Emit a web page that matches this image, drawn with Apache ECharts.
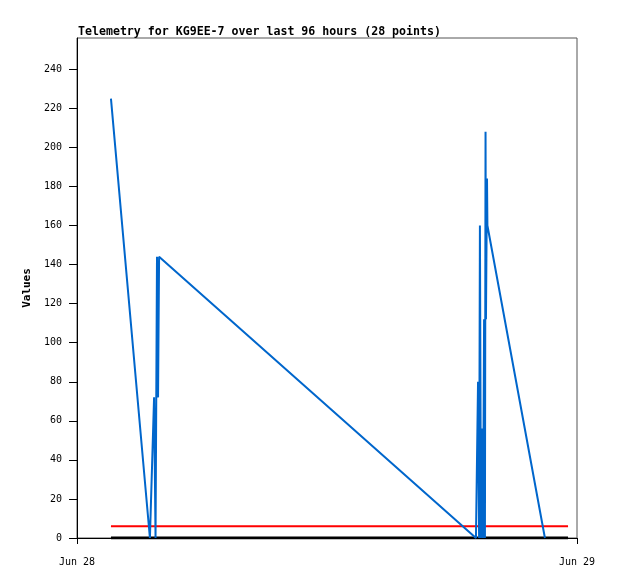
<!DOCTYPE html>
<html>
<head>
<meta charset="utf-8">
<script src="https://cdn.jsdelivr.net/npm/echarts@6/dist/echarts.min.js"></script>
<style>
  html, body { margin: 0; padding: 0; background: #fff; }
  #chart { width: 618px; height: 579px; }
</style>
</head>
<body>
<div id="chart"></div>
<script>
// hours since Jun 28 00:00 for each of the 28 telemetry points
const hours = [
  1.63, 3.50, 3.70, 3.77, 3.84, 3.89, 3.94, 3.96,
  19.15, 19.25, 19.30, 19.34, 19.39, 19.44, 19.49, 19.54,
  19.58, 19.61, 19.63, 19.68, 19.70,
  22.46, 22.70, 22.94, 23.18, 23.38, 23.50, 23.57
];
// blue channel has no reading for the last few points
const valuesBlue = [
  225, 0, 72, 0, 144, 72, 144, 144,
  0, 80, 0, 160, 0, 56, 0, 112,
  0, 208, 112, 184, 160,
  0, null, null, null, null, null, null
];
const valuesRed = [6, 6, 6, 6, 6, 6, 6, 6, 6, 6, 6, 6, 6, 6, 6, 6, 6, 6, 6, 6, 6, 6, 6, 6, 6, 6, 6, 6];
const valuesBlack = [0, 0, 0, 0, 0, 0, 0, 0, 0, 0, 0, 0, 0, 0, 0, 0, 0, 0, 0, 0, 0, 0, 0, 0, 0, 0, 0, 0];
const yTicks = [0, 20, 40, 60, 80, 100, 120, 140, 160, 180, 200, 220, 240];
const xLabels = { 0: "Jun 28", 24: "Jun 29" };

const font = "'DejaVu Sans Mono', monospace";

function pairs(vals) {
  return hours.map((h, i) => [h, vals[i]]);
}

const myChart = echarts.init(document.getElementById("chart"));
const option = {
  animation: false,
  backgroundColor: "#fff",
  title: {
    text: "Telemetry for KG9EE-7 over last 96 hours (28 points)",
    left: 73,
    top: 21,
    textStyle: {
      fontFamily: font,
      fontSize: 11.6,
      fontWeight: "bold",
      color: "#000",
    },
  },
  grid: {
    left: 77,
    top: 38,
    right: 41,
    bottom: 41,
    show: true,
    borderColor: "#555",
    borderWidth: 1,
  },
  xAxis: {
    type: "value",
    min: 0,
    max: 24,
    interval: 24,
    axisLine: { lineStyle: { color: "#000" } },
    axisTick: { length: 6, lineStyle: { color: "#000" } },
    splitLine: { show: false },
    axisLabel: {
      margin: 19,
      fontFamily: font,
      fontSize: 10,
      color: "#000",
      formatter: (v) => xLabels[v] || "",
    },
  },
  yAxis: {
    type: "value",
    min: 0,
    max: 256,
    name: "Values",
    nameLocation: "middle",
    nameGap: 35,
    nameTextStyle: {
      fontFamily: font,
      fontSize: 11,
      fontWeight: "bold",
      color: "#000",
    },
    axisLine: { show: true, lineStyle: { color: "#000" } },
    axisTick: {
      show: true,
      length: 8,
      customValues: yTicks,
      lineStyle: { color: "#000" },
    },
    splitLine: { show: false },
    axisLabel: {
      margin: 15,
      customValues: yTicks,
      fontFamily: font,
      fontSize: 10,
      color: "#000",
    },
  },
  series: [
    {
      name: "red",
      type: "line",
      data: pairs(valuesRed),
      showSymbol: false,
      lineStyle: { color: "#ff0000", width: 2 },
      z: 2,
    },
    {
      name: "black",
      type: "line",
      data: pairs(valuesBlack),
      showSymbol: false,
      lineStyle: { color: "#000", width: 3 },
      z: 3,
    },
    {
      name: "blue",
      type: "line",
      data: pairs(valuesBlue),
      showSymbol: false,
      connectNulls: false,
      lineStyle: { color: "#0066cc", width: 2 },
      z: 4,
    },
  ],
};
myChart.setOption(option);
</script>
</body>
</html>
